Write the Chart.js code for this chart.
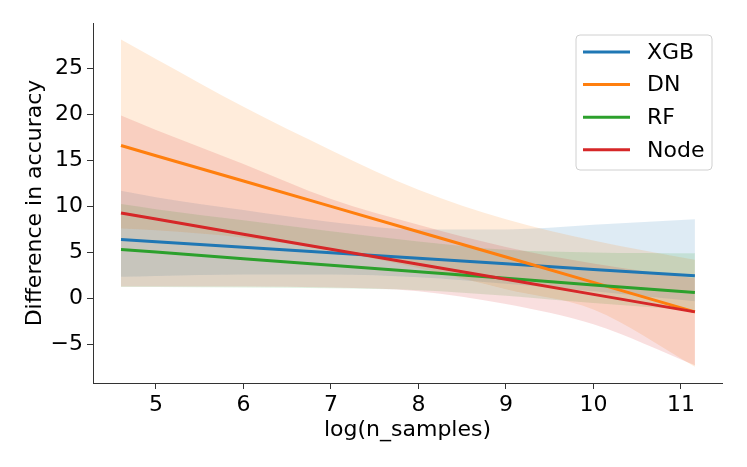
<!DOCTYPE html>
<html>
<head>
<meta charset="utf-8">
<script src="https://cdn.jsdelivr.net/npm/chart.js@4.4.0/dist/chart.umd.min.js"></script>
<style>
  html, body { margin: 0; padding: 0; background: #fff; }
  #wrap { width: 747px; height: 467px; }
</style>
</head>
<body>
<div id="wrap"><canvas id="chart" width="747" height="467"></canvas></div>
<script>
// x positions where the fits and bands are read
var xs = [4.6, 5, 6, 7, 8, 9, 10, 11.16];

var names = ['XGB', 'DN', 'RF', 'Node'];
var colors = ['31,119,180', '255,127,14', '44,160,44', '214,39,40'];

// fitted lines
var xgbLine  = [6.41, 6.17, 5.57, 4.97, 4.36, 3.76, 3.16, 2.46];
var dnLine   = [16.6, 15.5, 12.75, 10.0, 7.25, 4.5, 1.75, -1.45];
var rfLine   = [5.32, 5.04, 4.32, 3.61, 2.9, 2.19, 1.47, 0.65];
var nodeLine = [9.27, 8.62, 6.98, 5.35, 3.71, 2.08, 0.45, -1.45];

// confidence bands
var xgbUp  = [11.7, 11.0, 9.6, 8.3, 7.5, 7.5, 8.0, 8.6];
var xgbLo  = [2.35, 2.45, 2.6, 2.6, 2.3, 1.6, 0.8, -0.3];
var dnUp   = [28.1, 26.0, 20.8, 16.1, 11.8, 8.6, 6.3, 4.2];
var dnLo   = [7.6, 7.4, 6.6, 5.2, 3.3, 1.0, -1.2, -7.4];
var rfUp   = [10.25, 9.7, 8.5, 7.3, 6.2, 5.3, 5.0, 4.9];
var rfLo   = [1.25, 1.25, 1.2, 1.1, 0.9, 0.3, -0.5, -1.3];
var nodeUp = [19.85, 18.3, 14.6, 10.8, 8.0, 5.6, 3.8, 2.2];
var nodeLo = [1.3, 1.3, 1.3, 1.2, 0.8, -0.6, -2.8, -7.25];

var xTicks = [5, 6, 7, 8, 9, 10, 11];
var yTicks = [-5, 0, 5, 10, 15, 20, 25];

var lines = [xgbLine, dnLine, rfLine, nodeLine];
var ups = [xgbUp, dnUp, rfUp, nodeUp];
var los = [xgbLo, dnLo, rfLo, nodeLo];

function pts(arr) {
  return arr.map(function(v, i) { return {x: xs[i], y: v}; });
}

var datasets = [];
// bands
for (var i = 0; i < names.length; i++) {
  datasets.push({
    label: names[i] + ' ci',
    data: pts(ups[i]),
    borderWidth: 0,
    pointRadius: 0,
    cubicInterpolationMode: 'monotone',
    backgroundColor: 'rgba(' + colors[i] + ',0.15)',
    fill: '+1',
    order: 10 - i
  });
  datasets.push({
    label: names[i] + ' lo',
    data: pts(los[i]),
    borderWidth: 0,
    pointRadius: 0,
    cubicInterpolationMode: 'monotone',
    fill: false,
    order: 10 - i
  });
}
// lines
for (var j = 0; j < names.length; j++) {
  datasets.push({
    label: names[j],
    data: pts(lines[j]),
    borderColor: 'rgb(' + colors[j] + ')',
    borderWidth: 3,
    pointRadius: 0,
    fill: false,
    order: 4 - j
  });
}

var font = 'DejaVu Sans';

// matplotlib-like legend box in the upper right
var legendBox = {
  id: 'legendBox',
  afterDraw: function(chart) {
    var ctx = chart.ctx;
    ctx.save();
    ctx.beginPath();
    ctx.roundRect(576, 35, 136, 135, 4);
    ctx.fillStyle = 'rgba(255,255,255,0.8)';
    ctx.fill();
    ctx.strokeStyle = '#d0d0d0';
    ctx.lineWidth = 1;
    ctx.stroke();
    ctx.font = '22px "' + font + '"';
    ctx.textBaseline = 'middle';
    for (var k = 0; k < names.length; k++) {
      var y = 52 + k * 32.6;
      ctx.beginPath();
      ctx.moveTo(583, y);
      ctx.lineTo(630, y);
      ctx.strokeStyle = 'rgb(' + colors[k] + ')';
      ctx.lineWidth = 3;
      ctx.stroke();
      ctx.fillStyle = '#000';
      ctx.fillText(names[k], 647, y + 1);
    }
    ctx.restore();
  }
};

new Chart('chart', {
  type: 'line',
  data: { datasets: datasets },
  options: {
    responsive: false,
    animation: false,
    layout: { padding: { left: 0, right: 25, top: 23, bottom: 0 } },
    plugins: {
      legend: { display: false },
      tooltip: { enabled: false }
    },
    scales: {
      x: {
        type: 'linear',
        min: 4.28,
        max: 11.47,
        afterBuildTicks: function(s) { s.ticks = xTicks.map(function(v) { return {value: v}; }); },
        afterFit: function(s) { s.height = 84; },
        grid: { drawOnChartArea: false, tickLength: 6, color: '#333', tickWidth: 1 },
        border: { color: '#333', width: 1 },
        ticks: { color: '#000', font: { family: font, size: 22 }, padding: 3, maxRotation: 0 },
        title: { display: true, text: 'log(n_samples)', color: '#000', font: { family: font, size: 22 }, padding: { bottom: 24 } }
      },
      y: {
        type: 'linear',
        min: -9.17,
        max: 29.9,
        afterBuildTicks: function(s) { s.ticks = yTicks.map(function(v) { return {value: v}; }); },
        afterFit: function(s) { s.width = 93; },
        grid: { drawOnChartArea: false, tickLength: 6, color: '#333', tickWidth: 1 },
        border: { color: '#333', width: 1 },
        ticks: { color: '#000', font: { family: font, size: 22 }, padding: 4,
          callback: function(v) { return v < 0 ? '\u2212' + Math.abs(v) : v; } },
        title: { display: true, text: 'Difference in accuracy', color: '#000', font: { family: font, size: 22 }, padding: { top: 22 } }
      }
    }
  },
  plugins: [legendBox]
});
</script>
</body>
</html>
